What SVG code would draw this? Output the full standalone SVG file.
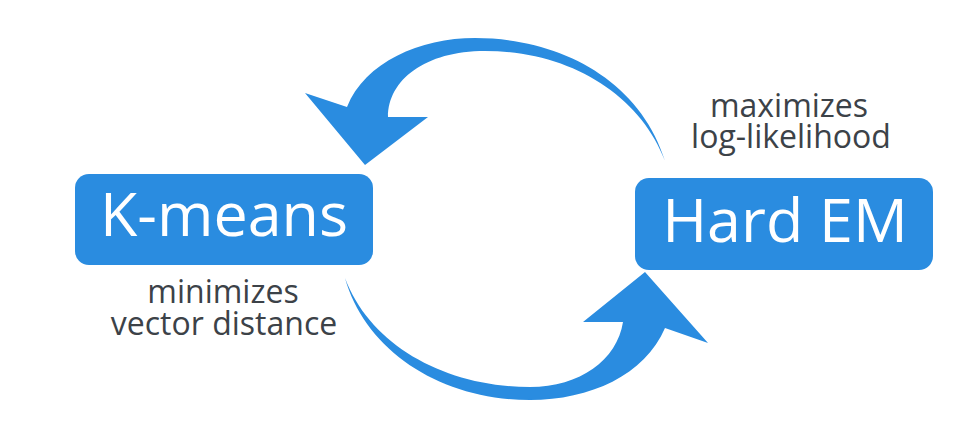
<svg xmlns="http://www.w3.org/2000/svg" width="953" height="442" viewBox="0 0 953 442">
  <style>
    .box { fill: #2a8ce0; }
    .title { fill: #ffffff; font-family: "Open Sans", "Liberation Sans", sans-serif; font-size: 61px; text-anchor: middle; }
    .note { fill: #3c4248; font-family: "Open Sans", "Liberation Sans", sans-serif; font-size: 32px; text-anchor: middle; }
    .flow { fill: #2a8ce0; }
  </style>
  <rect width="953" height="442" fill="#ffffff"/>

  <!-- curved arrows between the two methods -->
  <g id="connectors">
    <!-- upper arrow: from Hard EM back to K-means -->
    <path class="flow" d="M 665,161 C 640,80 560,38 475,38 C 420,38 365,62 347,107 L 305,93 L 365,165 L 428,117 L 388,117 C 388,80 425,51 485,51 C 570,51 640,95 665,161 Z"/>
    <!-- lower arrow: from K-means to Hard EM -->
    <path class="flow" d="M 345,278 C 365,350 440,400 530,400 C 590,400 645,375 665,328 L 708,343 L 645,272 L 583,322 L 623,322 C 617,360 580,387 530,387 C 445,387 370,345 345,278 Z"/>
  </g>

  <g id="kmeans">
    <rect class="box" x="75" y="174" width="298" height="91" rx="14"/>
    <text class="title" x="224" y="236">K-means</text>
    <text class="note" x="223" y="303">minimizes</text>
    <text class="note" x="224" y="335">vector distance</text>
  </g>

  <g id="hardem">
    <rect class="box" x="635" y="178" width="298" height="92" rx="14"/>
    <text class="title" x="785" y="242">Hard EM</text>
    <text class="note" x="789" y="117">maximizes</text>
    <text class="note" x="791" y="148">log-likelihood</text>
  </g>
</svg>
